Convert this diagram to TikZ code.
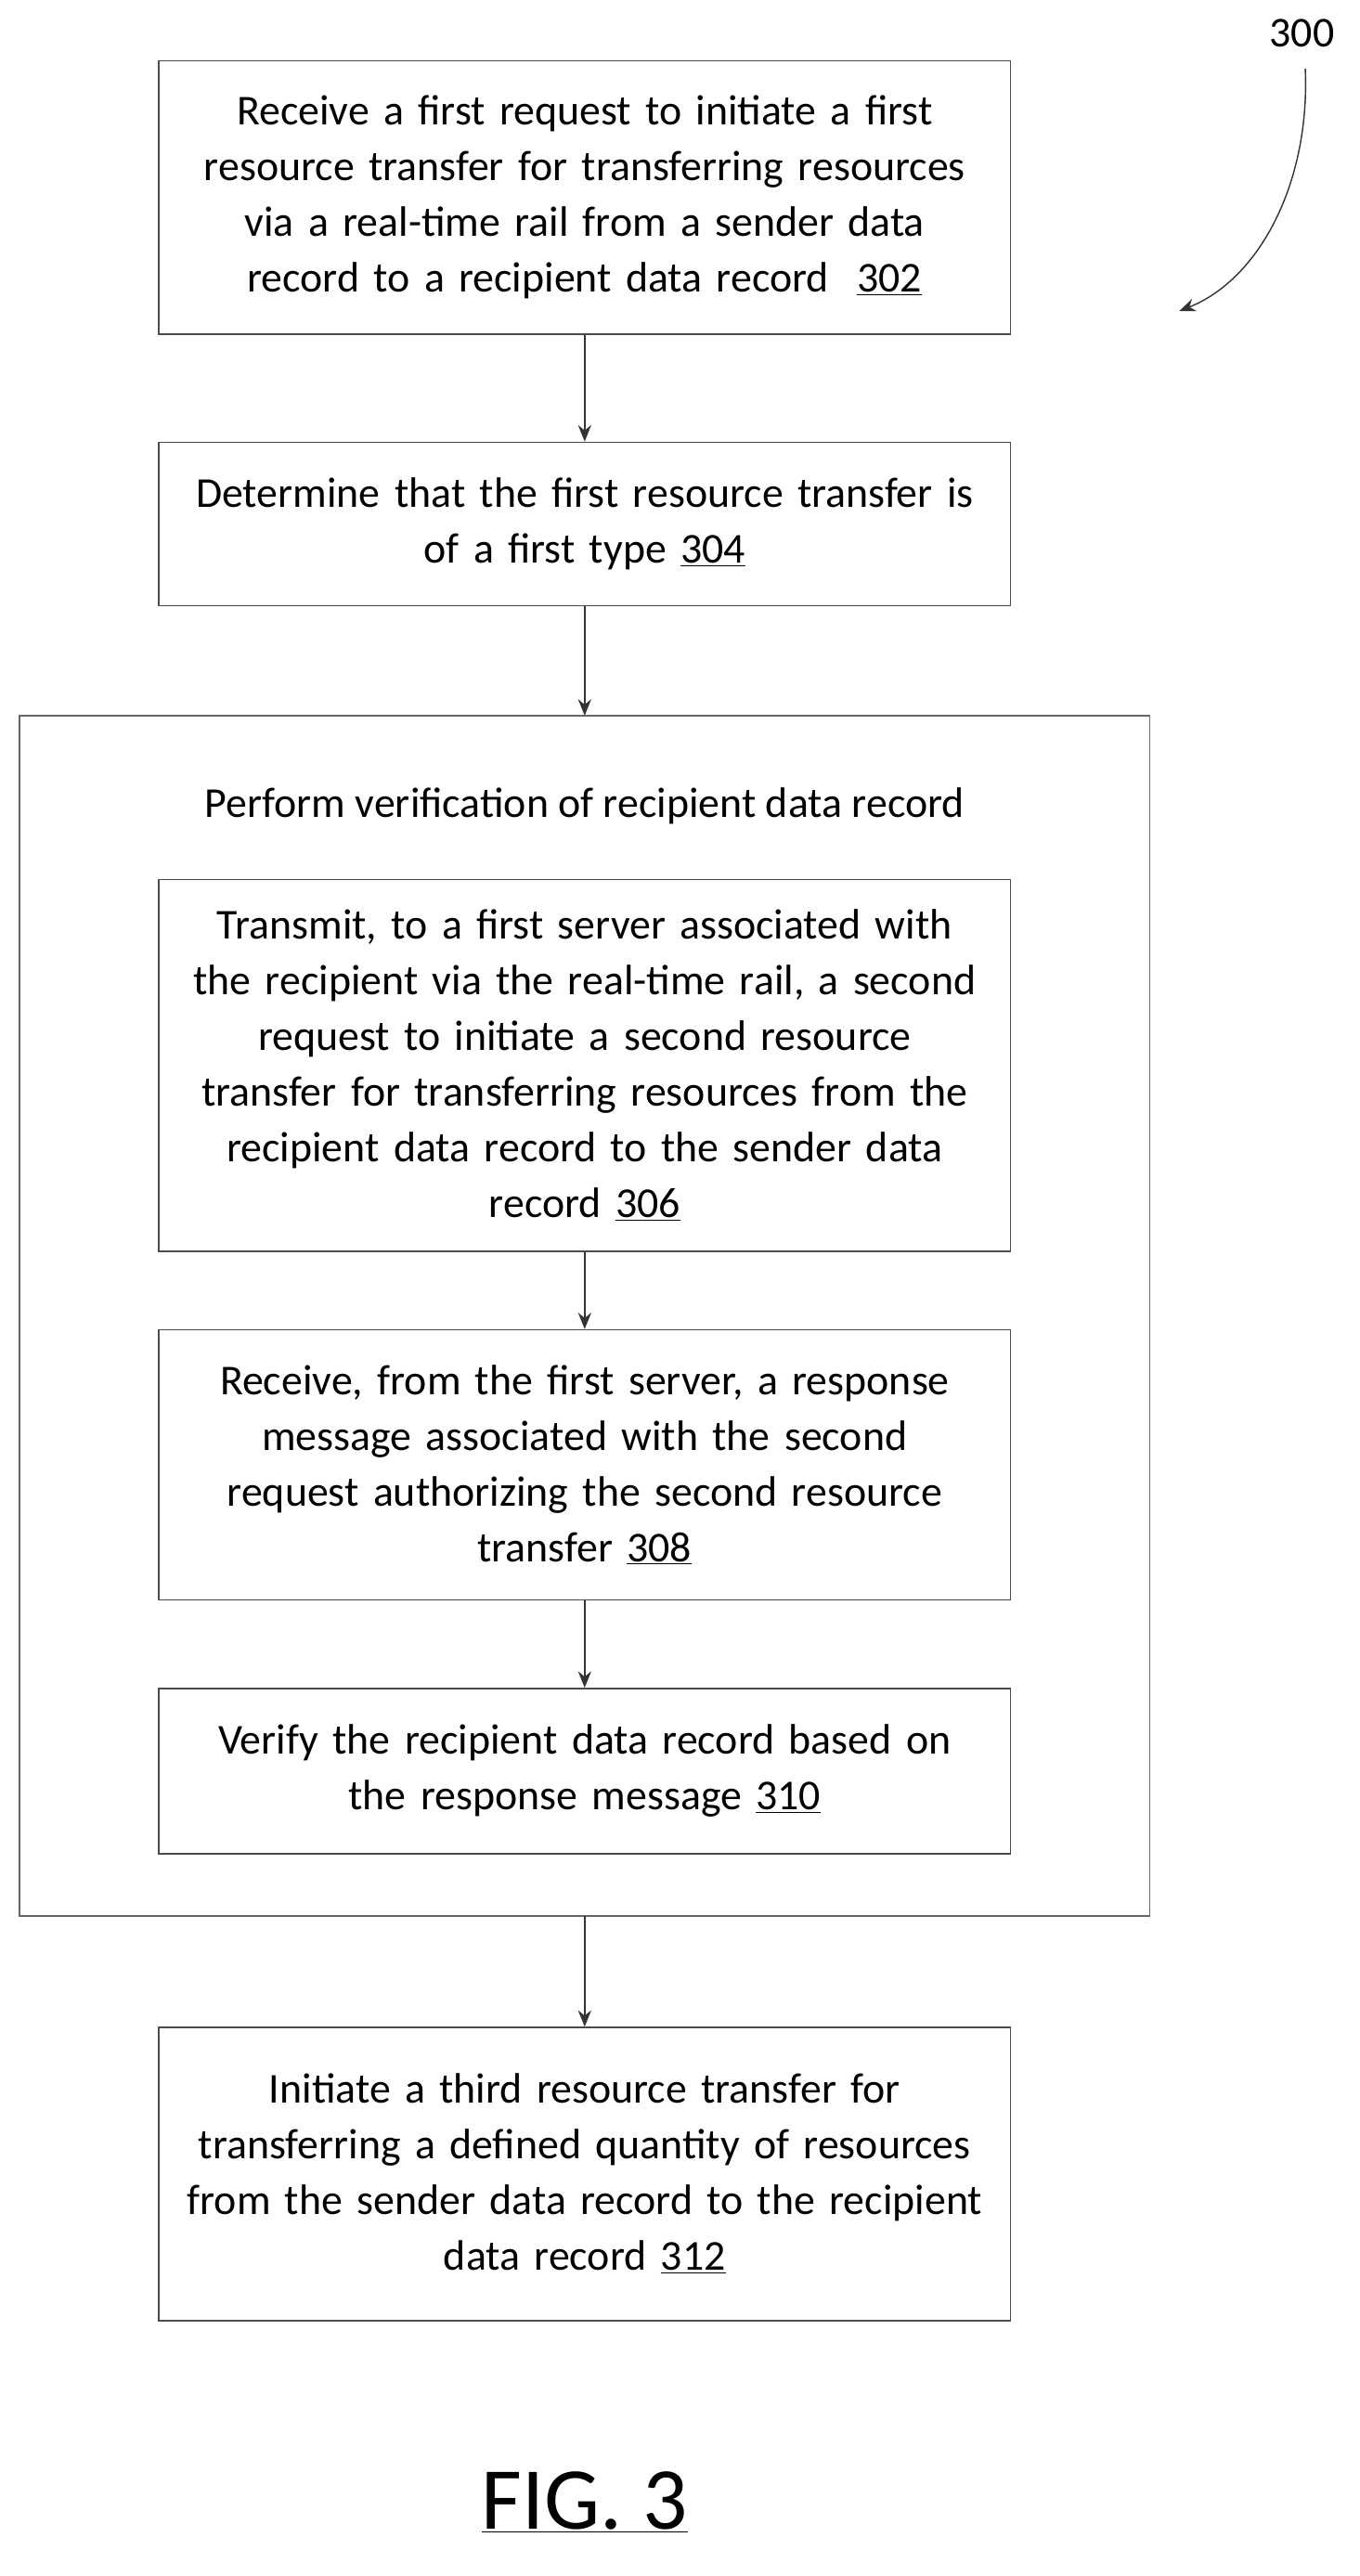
\documentclass[tikz,border=0pt]{standalone}
\usepackage{fontspec}
\setmainfont{Carlito}
\usetikzlibrary{arrows.meta}
\begin{document}
\begin{tikzpicture}[x=1pt,y=-1pt,
  box/.style={draw=black!70,line width=0.8pt,text width=520pt,align=center,inner sep=0pt,font=\fontsize{26}{34}\selectfont},
  arr/.style={-{Stealth[length=10pt,width=8pt]},line width=1.2pt,black!80}]
\useasboundingbox (0,0) rectangle (830,1573);
\draw[black!60,line width=0.8pt] (12,437) rectangle (702,1170);
\node[font=\fontsize{26}{34}\selectfont] (title) at (357,492) {Perform verification of recipient data record};
\node[box,minimum height=167pt] (a) at (357,120.5) {Receive a first request to initiate a first\\resource transfer for transferring resources\\via a real-time rail from a sender data\\record to a recipient data record\ \ \underline{302}};
\node[box,minimum height=100pt] (b) at (357,320) {Determine that the first resource transfer is\\of a first type \underline{304}};
\coordinate (ot) at (357,437);
\coordinate (ob) at (357,1170);
\node[box,minimum height=227pt] (c) at (357,650.5) {Transmit, to a first server associated with\\the recipient via the real-time rail, a second\\request to initiate a second resource\\transfer for transferring resources from the\\recipient data record to the sender data\\record \underline{306}};
\node[box,minimum height=165pt] (d) at (357,894.5) {Receive, from the first server, a response\\message associated with the second\\request authorizing the second resource\\transfer \underline{308}};
\node[box,minimum height=101pt] (e) at (357,1081.5) {Verify the recipient data record based on\\the response message \underline{310}};
\node[box,minimum height=179pt] (f) at (357,1327.5) {Initiate a third resource transfer for\\transferring a defined quantity of resources\\from the sender data record to the recipient\\data record \underline{312}};
\draw[arr] (a) -- (b);
\draw[arr] (b) -- (ot);
\draw[arr] (c) -- (d);
\draw[arr] (d) -- (e);
\draw[arr] (ob) -- (f);
\node[font=\fontsize{54}{56}\selectfont] (fig) at (357,1528) {\underline{FIG. 3}};
\node[font=\fontsize{26}{30}\selectfont] (n300) at (795,20) {300};
\coordinate (tip) at (720,190);
\draw[arr,line width=0.8pt] (797,42) .. controls (800,110) and (770,170) .. (tip);
\end{tikzpicture}
\end{document}
